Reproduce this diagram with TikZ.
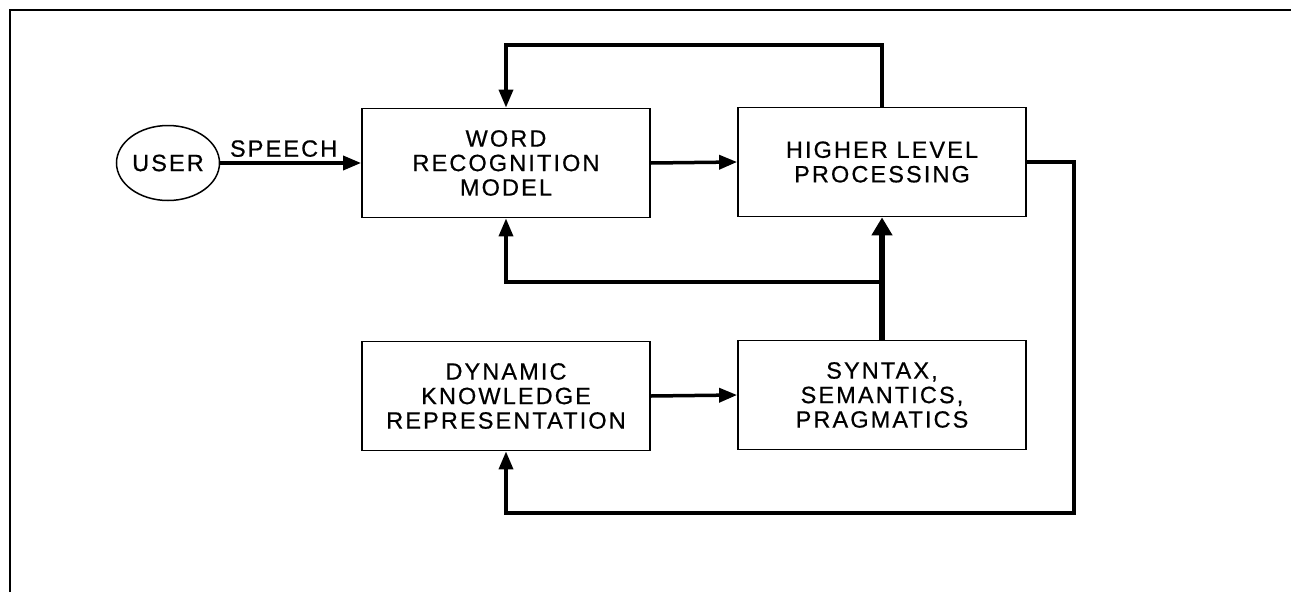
\documentclass[tikz,border=0pt]{standalone}
\usepackage{fontspec}
\setmainfont{Liberation Sans}[LetterSpace=9,FakeBold=0.6]
\usetikzlibrary{arrows.meta,shapes.geometric}
\tikzset{
  block/.style={draw,line width=1.8pt,minimum width=288pt,minimum height=109pt,inner sep=0pt,align=center},
  link/.style={line width=3.5pt,-{Triangle[length=18pt,width=14pt]}},
  wire/.style={line width=3.5pt}
}
\newcommand{\diagfont}{\fontsize{23.5}{24.5}\selectfont}

\begin{document}
\begin{tikzpicture}[x=1pt,y=-1pt,font=\diagfont]
\useasboundingbox (0,0) rectangle (1291,592);
\draw[line width=2.5pt] (10,592) -- (10,10) -- (1291,10);
\node[draw,ellipse,line width=1.5pt,minimum width=103pt,minimum height=75pt,inner sep=0pt] (user) at (168,163) {USER};
\node[block] (wrm) at (506,163) {WORD\\RECOGNITION\\MODEL};
\node[block] (hlp) at (882,162) {HIGHER LEVEL\\PROCESSING};
\node[block] (dkr) at (506,396) {DYNAMIC\\KNOWLEDGE\\REPRESENTATION};
\node[block] (ssp) at (882,395) {SYNTAX,\\SEMANTICS,\\PRAGMATICS};
\coordinate (ytop) at (0,45);
\coordinate (split) at (882,282);
\coordinate (loopse) at (1074,513);
% connectors
\draw[link] (user.east) -- node[above=1pt,pos=0.45] (speech) {SPEECH} (wrm.west);
\draw[link] (wrm.east) -- (hlp.west);
\draw[link] (hlp.north) -- (hlp.north |- ytop) -| (wrm.north);
\draw[line width=6pt,-{Triangle[length=18pt,width=20pt]}] (ssp.north) -- (hlp.south);
\draw[link] (split) -| (wrm.south);
\draw[link] (dkr.east) -- (ssp.west);
\draw[link] (hlp.east) -| (loopse) -| (dkr.south);
\end{tikzpicture}
\end{document}
